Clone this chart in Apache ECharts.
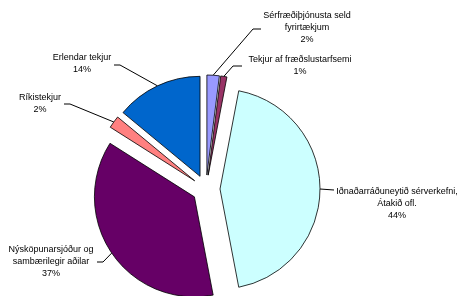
<!DOCTYPE html>
<html>
<head>
<meta charset="utf-8">
<script src="https://cdn.jsdelivr.net/npm/echarts@6/dist/echarts.min.js"></script>
<style>
    html, body { margin: 0; padding: 0; background: #fff; }
    #main { width: 457px; height: 296px; }
</style>
</head>
<body>
<div id="main"></div>
<script>
// tekjuskipting, hlutfall í %
const categories = [
    'Sérfræðiþjónusta seld\nfyrirtækjum',
    'Tekjur af fræðslustarfsemi',
    'Iðnaðarráðuneytið sérverkefni,\nÁtakið ofl.',
    'Nýsköpunarsjóður og\nsambærilegir aðilar',
    'Ríkistekjur',
    'Erlendar tekjur'
];
const shares = [2, 1, 44, 37, 2, 14];
const colors = ['#9999ff', '#993366', '#ccffff', '#660066', '#ff8080', '#0066cc'];

const pieCenter = [206, 189];
const pieRadius = 100;
const explode = 14;

// where each label sits, and the bend of its leader line
const labelSpots = [
    { x: 307, y: 28, line: [[253, 29], [261, 29]] },
    { x: 300, y: 66, line: [[233, 66], [242, 66]] },
    { x: 397, y: 204, line: [[334, 190]] },
    { x: 51, y: 262, line: [[103, 262], [97, 262]] },
    { x: 40, y: 104, line: [[70, 104], [64, 104]] },
    { x: 82, y: 64, line: [[120, 65], [114, 65]] }
];

const total = shares.reduce((a, b) => a + b, 0);

// direction of a slice's middle angle (clockwise from 12 o'clock)
function midDir(i) {
    let before = 0;
    for (let k = 0; k < i; k++) before += shares[k];
    const mid = (before + shares[i] / 2) / total * Math.PI * 2;
    return [Math.sin(mid), -Math.cos(mid)];
}

function rimPoint(i) {
    const d = midDir(i);
    const r = pieRadius + explode;
    return [pieCenter[0] + r * d[0], pieCenter[1] + r * d[1]];
}

// one pie per slice, each pushed out along its own middle angle
const series = categories.map((cat, i) => {
    const d = midDir(i);
    return {
        type: 'pie',
        center: [pieCenter[0] + explode * d[0], pieCenter[1] + explode * d[1]],
        radius: pieRadius,
        startAngle: 90,
        clockwise: true,
        avoidLabelOverlap: false,
        silent: true,
        itemStyle: {
            borderColor: '#000',
            borderWidth: 0.8
        },
        label: {
            show: true,
            formatter: '{b}\n{c}%',
            fontFamily: 'Liberation Sans, Arial, sans-serif',
            fontSize: 9,
            lineHeight: 12,
            color: '#000'
        },
        labelLine: {
            show: true,
            lineStyle: { color: '#000', width: 1 }
        },
        labelLayout: function (params) {
            const spot = labelSpots[i];
            return {
                x: spot.x,
                y: spot.y,
                align: 'center',
                verticalAlign: 'middle',
                labelLinePoints: [rimPoint(i)].concat(spot.line)
            };
        },
        data: categories.map((name, j) => {
            const item = { name: name, value: shares[j], itemStyle: { color: colors[j] } };
            if (j !== i) {
                item.itemStyle = { opacity: 0 };
                item.label = { show: false };
                item.labelLine = { show: false };
            }
            return item;
        })
    };
});

let myChart = echarts.init(document.getElementById('main'));
myChart.setOption({
    animation: false,
    series: series
});
</script>
</body>
</html>
